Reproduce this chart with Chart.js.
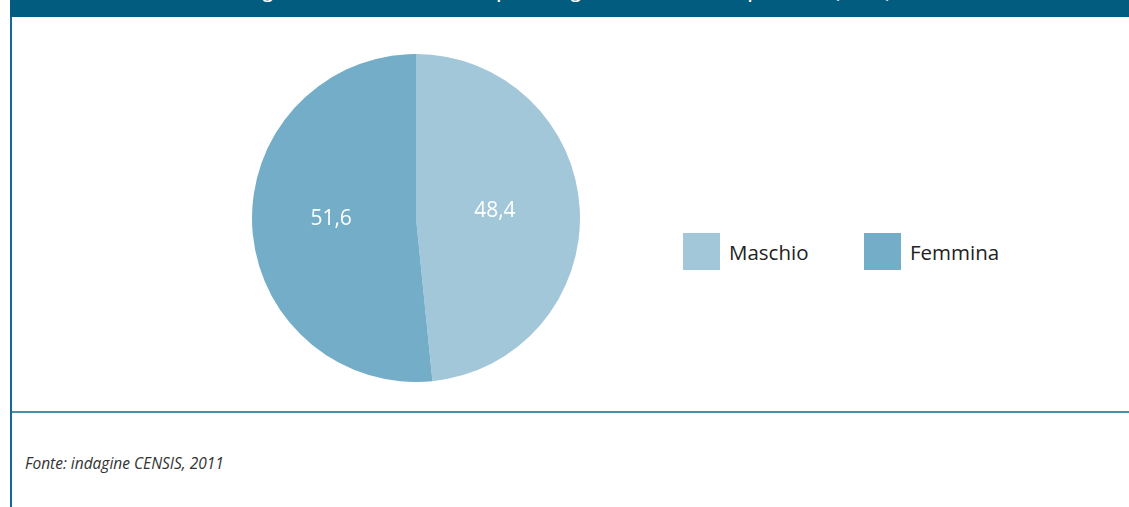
<!DOCTYPE html>
<html lang="it">
<head>
<meta charset="utf-8">
<title>Campione per sesso</title>
<script src="https://cdn.jsdelivr.net/npm/chart.js@4.4.1/dist/chart.umd.min.js"></script>
<style>
  html, body { margin: 0; padding: 0; background: #fff; }
  body { width: 1129px; height: 507px; position: relative; overflow: hidden; font-family: "Open Sans", "Noto Sans", sans-serif; }
  .titlebar {
    position: absolute; left: 10px; top: 0; width: 1119px; height: 17px;
    background: #025c80; overflow: hidden;
  }
  .titlebar span {
    position: absolute; left: 0; right: 0; top: -21px; text-align: center;
    color: #fff; font-size: 18px; font-weight: 600; white-space: nowrap;
  }
  .frame-left { position: absolute; left: 10px; top: 17px; width: 2px; height: 490px; background: #14699a; }
  .rule { position: absolute; left: 12px; top: 411px; width: 1117px; height: 2px; background: #4b8ea9; }
  #wrap { position: absolute; left: 252px; top: 54px; width: 328px; height: 328px; }
  .legend { position: absolute; top: 233px; display: flex; align-items: center; }
  .legend i { display: block; width: 37px; height: 37px; margin-right: 9px; }
  .legend b { font-weight: 400; font-size: 20.5px; color: #222; }
  .fonte { position: absolute; left: 25px; top: 452px; font-size: 15.5px; font-style: italic; color: #333; }
</style>
</head>
<body>
<div class="titlebar"><span>Fig. 1 - Distribuzione del campione di genitori intervistati, per sesso (val.%)</span></div>
<div class="frame-left"></div>
<div class="rule"></div>
<div id="wrap"><canvas id="chart-sesso"></canvas></div>
<div id="legend"></div>
<div class="fonte">Fonte: indagine CENSIS, 2011</div>

<script>
// Dati: distribuzione per sesso (val. %)
const categorie = ['Maschio', 'Femmina'];
const valori = [48.4, 51.6];
const colori = ['#a2c7d9', '#73adc8'];
const legendX = [683, 864];

// Etichette dei valori al centro di ogni spicchio
const valueLabels = {
  id: 'valueLabels',
  afterDatasetsDraw(chart) {
    const ctx = chart.ctx;
    const meta = chart.getDatasetMeta(0);
    ctx.save();
    ctx.fillStyle = '#fff';
    ctx.font = '21px "Open Sans", "Noto Sans", sans-serif';
    ctx.textAlign = 'center';
    ctx.textBaseline = 'middle';
    meta.data.forEach((arc, i) => {
      const p = arc.tooltipPosition();
      ctx.fillText(valori[i].toFixed(1).replace('.', ','), p.x - 3, p.y - 3);
    });
    ctx.restore();
  }
};

new Chart(document.getElementById('chart-sesso'), {
  type: 'pie',
  data: {
    labels: categorie,
    datasets: [{ data: valori, backgroundColor: colori, borderWidth: 0 }]
  },
  options: {
    responsive: true,
    maintainAspectRatio: false,
    animation: false,
    layout: { padding: 0 },
    plugins: {
      legend: { display: false },
      tooltip: { enabled: false }
    }
  },
  plugins: [valueLabels]
});

// Legenda
document.getElementById('legend').innerHTML = categorie.map((c, i) => `
  <div class="legend" style="left:${legendX[i]}px">
    <i style="background:${colori[i]}"></i><b>${c}</b>
  </div>`).join('');
</script>
</body>
</html>
